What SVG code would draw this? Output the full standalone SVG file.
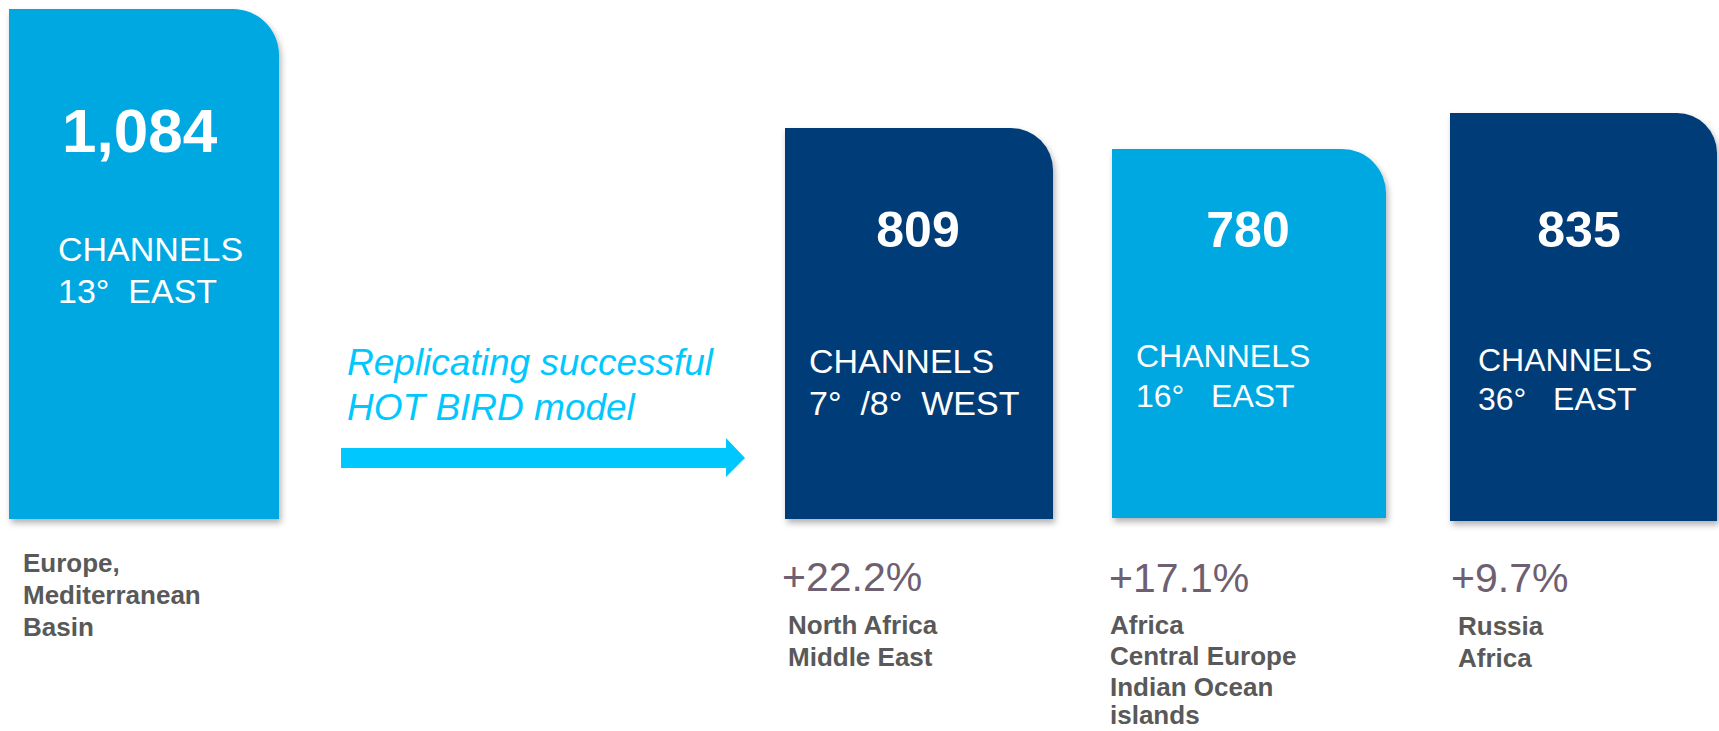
<svg xmlns="http://www.w3.org/2000/svg" width="1719" height="731" viewBox="0 0 1719 731">
<defs>
<filter id="sh" x="-5%" y="-5%" width="115%" height="115%">
<feDropShadow dx="2" dy="4" stdDeviation="3" flood-color="#000" flood-opacity="0.3"/>
</filter>
<style>
.light{fill:#00A8E1;filter:url(#sh)}
.dark{fill:#003C78;filter:url(#sh)}
text{font-family:"Liberation Sans",Arial,sans-serif;white-space:pre}
.num{fill:#fff;font-weight:bold}
.ch{fill:#fff}
.reg{fill:#595959;font-weight:bold;font-size:26px}
.pct{fill:#6E6070;font-size:41px}
.tag{fill:#00C8FF;font-style:italic;font-size:37px}
</style>
</defs>
<g id="node-1084">
<path class="light" d="M9,9 H233 A46,46 0 0 1 279,55 V519 H9 Z"/>
<text class="num" x="62" y="152" font-size="62">1,084</text>
<text class="ch" x="58" y="261" font-size="34">CHANNELS</text>
<text class="ch" x="58" y="303" font-size="34">13°  EAST</text>
<text class="reg" x="23" y="572">Europe,</text>
<text class="reg" x="23" y="604">Mediterranean</text>
<text class="reg" x="23" y="636">Basin</text>
</g>
<g id="connectors">
<polygon points="341,448 726,448 726,438 745,458 726,477 726,468 341,468" fill="#00C8FF"/>
<text class="tag" x="347" y="375">Replicating successful</text>
<text class="tag" x="347" y="420">HOT BIRD model</text>
</g>
<g id="node-809">
<path class="dark" d="M785,128 H1011 A42,42 0 0 1 1053,170 V519 H785 Z"/>
<text class="num" x="918" y="247" font-size="50" text-anchor="middle">809</text>
<text class="ch" x="809" y="373" font-size="34">CHANNELS</text>
<text class="ch" x="809" y="415" font-size="34">7°  /8°  WEST</text>
<text class="pct" x="782" y="591">+22.2%</text>
<text class="reg" x="788" y="634">North Africa</text>
<text class="reg" x="788" y="666">Middle East</text>
</g>
<g id="node-780">
<path class="light" d="M1112,149 H1342 A44,44 0 0 1 1386,193 V518 H1112 Z"/>
<text class="num" x="1248" y="247" font-size="50" text-anchor="middle">780</text>
<text class="ch" x="1136" y="367" font-size="32">CHANNELS</text>
<text class="ch" x="1136" y="407" font-size="32">16°   EAST</text>
<text class="pct" x="1109" y="592">+17.1%</text>
<text class="reg" x="1110" y="634">Africa</text>
<text class="reg" x="1110" y="665">Central Europe</text>
<text class="reg" x="1110" y="696">Indian Ocean</text>
<text class="reg" x="1110" y="724">islands</text>
</g>
<g id="node-835">
<path class="dark" d="M1450,113 H1677 A40,40 0 0 1 1717,153 V521 H1450 Z"/>
<text class="num" x="1579" y="247" font-size="50" text-anchor="middle">835</text>
<text class="ch" x="1478" y="371" font-size="32">CHANNELS</text>
<text class="ch" x="1478" y="410" font-size="32">36°   EAST</text>
<text class="pct" x="1451" y="592">+9.7%</text>
<text class="reg" x="1458" y="635">Russia</text>
<text class="reg" x="1458" y="667">Africa</text>
</g>
</svg>
